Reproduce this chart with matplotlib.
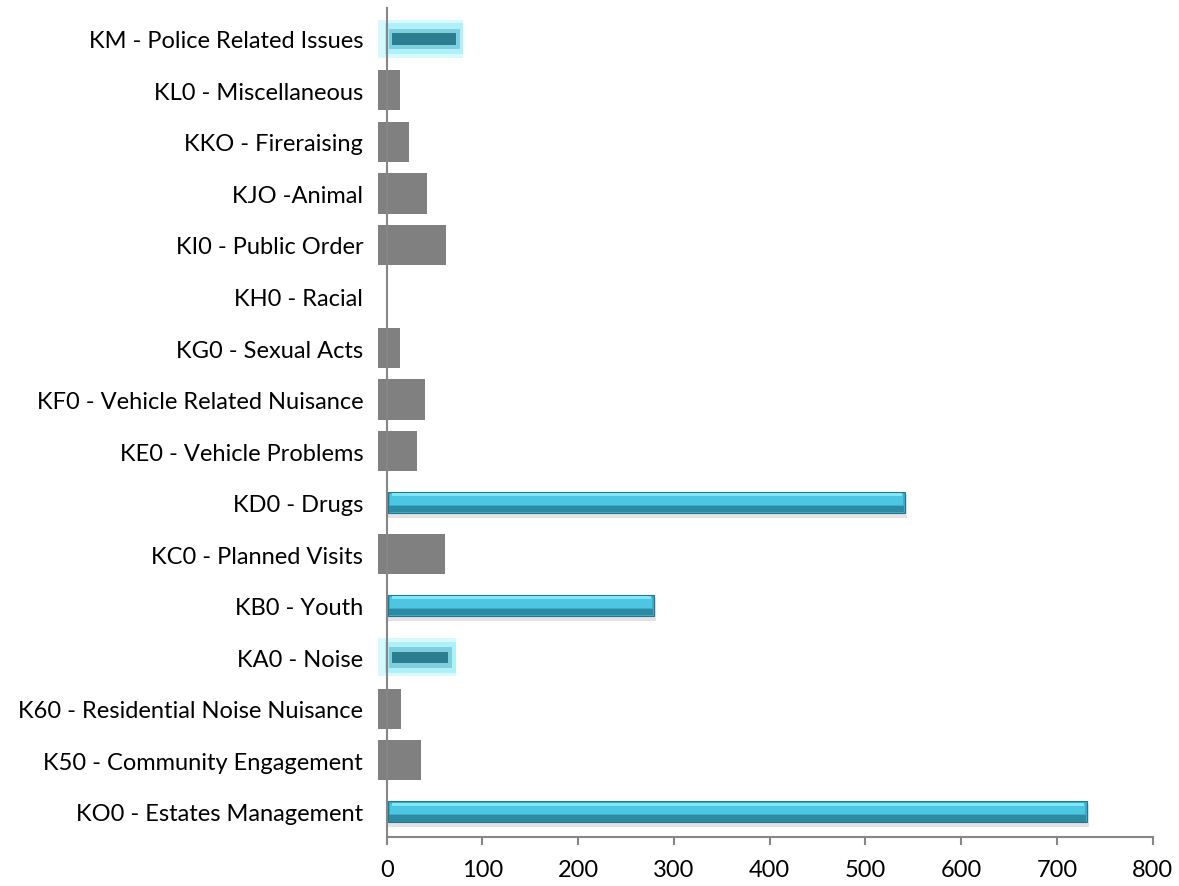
import matplotlib
matplotlib.use('Agg')
import matplotlib.pyplot as plt
import numpy as np

categories = ['KO0 - Estates Management', 'K50 - Community Engagement',
              'K60 - Residential Noise Nuisance', 'KA0 - Noise', 'KB0 - Youth',
              'KC0 - Planned Visits', 'KD0 - Drugs', 'KE0 - Vehicle Problems',
              'KF0 - Vehicle Related Nuisance', 'KG0 - Sexual Acts', 'KH0 - Racial',
              'KI0 - Public Order', 'KJO -Animal', 'KKO - Fireraising',
              'KL0 - Miscellaneous', 'KM - Police Related Issues']
values = [730, 36, 15, 72, 278, 61, 540, 32, 40, 14, 0, 62, 42, 23, 14, 80]
# which bars are drawn as the blue 3D bars, which as flat grey, which blurred
styles = ['blue', 'grey', 'grey', 'blur', 'blue', 'grey', 'blue', 'grey',
          'grey', 'grey', 'grey', 'grey', 'grey', 'grey', 'grey', 'blur']

plt.rcParams['font.family'] = ['Lato', 'DejaVu Sans']

fig = plt.figure(figsize=(11.79, 8.87), dpi=100)
ax = fig.add_axes([0.3199, 0.0552, 0.6578, 0.9347])

y = np.arange(len(categories))
vals = np.array(values, dtype=float)
gray_start = -9

for i, (v, s) in enumerate(zip(vals, styles)):
    if s == 'grey':
        if v > 0:
            ax.barh(i, v - gray_start, left=gray_start, height=0.78,
                    color='#808080', zorder=3)
    elif s == 'blue':
        # shadow, body, bevel highlight
        ax.barh(i - 0.07, v + 3, left=0, height=0.44, color='#c8c8c8',
                alpha=0.5, zorder=2)
        ax.barh(i, v, left=1, height=0.40, color='#3aaecb',
                edgecolor='#2a7389', linewidth=0.8, zorder=3)
        ax.barh(i - 0.13, v - 2, left=2, height=0.12, color='#2d8aa3',
                zorder=4)
        ax.barh(i + 0.06, v - 4, left=3, height=0.2, color='#4cc6e2',
                zorder=4)
        ax.barh(i + 0.15, v - 8, left=6, height=0.06, color='#7ee8f8',
                zorder=5)
    else:
        ax.barh(i, v + 9, left=gray_start, height=0.74, color='#d6f9fd',
                zorder=2)
        ax.barh(i, v + 2, left=-2, height=0.6, color='#a6eefa',
                alpha=0.8, zorder=2)
        ax.barh(i, v - 6, left=2, height=0.4, color='#5fb9cb',
                alpha=0.6, zorder=3)
        ax.barh(i, v - 14, left=6, height=0.22, color='#1f6f83',
                alpha=0.85, zorder=3)

ax.set_xlim(-10, 800)
ax.set_ylim(-0.49, 15.6)
ax.set_xticks(range(0, 801, 100))
ax.set_yticks(y)
ax.set_yticklabels(categories)

ax.spines['left'].set_position(('data', 0))
ax.spines['bottom'].set_bounds(0, 800)
for sp in ['top', 'right']:
    ax.spines[sp].set_visible(False)
for sp in ['left', 'bottom']:
    ax.spines[sp].set_color('#868686')
    ax.spines[sp].set_linewidth(1.5)
    ax.spines[sp].set_zorder(6)
ax.tick_params(axis='x', length=6, width=1.5, color='#868686',
               labelsize=17, pad=10)
ax.tick_params(axis='y', length=0, labelsize=17, pad=17)

plt.savefig('out.png', dpi=100)
